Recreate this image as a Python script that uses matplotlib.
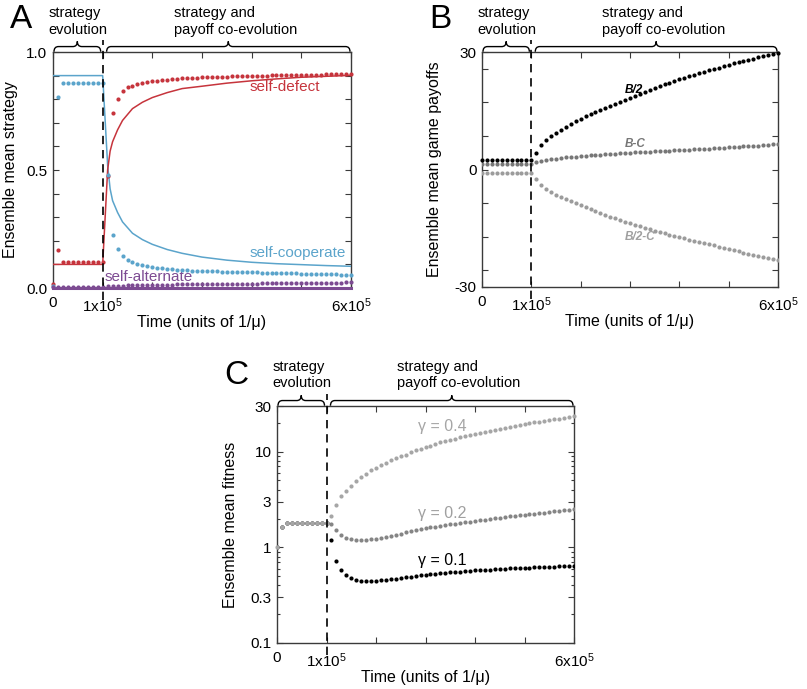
import matplotlib
matplotlib.use('Agg')
import matplotlib.pyplot as plt
import matplotlib.transforms as mtransforms
from matplotlib.path import Path
from matplotlib.patches import PathPatch
from matplotlib.ticker import LogLocator, FixedLocator, NullFormatter
import numpy as np

plt.rcParams['font.family'] = ['Liberation Sans', 'DejaVu Sans']
plt.rcParams['mathtext.fontset'] = 'custom'
plt.rcParams['mathtext.rm'] = 'Liberation Sans'
plt.rcParams['mathtext.it'] = 'Liberation Sans:italic'

# Data: time grid (units of 1/mu), samples every 1e4
time = np.arange(0, 610000, 10000)

# Panel A - ensemble mean strategy (dots)
self_defect = [0.017, 0.16, 0.11, 0.11, 0.11, 0.11, 0.11, 0.11, 0.11, 0.11, 0.11,
               0.475, 0.74, 0.80, 0.833, 0.85, 0.858, 0.864, 0.869, 0.873, 0.876,
               0.879, 0.881, 0.883, 0.885, 0.887, 0.888, 0.889, 0.890, 0.891, 0.892,
               0.893, 0.894, 0.895, 0.895, 0.896, 0.897, 0.897, 0.898, 0.898, 0.899,
               0.899, 0.900, 0.900, 0.901, 0.901, 0.902, 0.902, 0.902, 0.903, 0.903,
               0.903, 0.904, 0.904, 0.904, 0.905, 0.905, 0.905, 0.906, 0.906, 0.906]
self_cooperate = [0.01, 0.81, 0.869, 0.869, 0.869, 0.869, 0.869, 0.869, 0.869, 0.869, 0.869,
                  0.48, 0.225, 0.167, 0.137, 0.119, 0.109, 0.101, 0.096, 0.092, 0.089,
                  0.086, 0.084, 0.082, 0.080, 0.078, 0.076, 0.075, 0.074, 0.073, 0.072,
                  0.071, 0.070, 0.070, 0.069, 0.069, 0.068, 0.068, 0.067, 0.067, 0.066,
                  0.066, 0.065, 0.065, 0.064, 0.064, 0.063, 0.063, 0.062, 0.062, 0.061,
                  0.061, 0.060, 0.060, 0.059, 0.059, 0.058, 0.058, 0.057, 0.056, 0.055]
self_alternate = [0.005, 0.005, 0.005, 0.005, 0.005, 0.005, 0.005, 0.005, 0.005, 0.005, 0.005,
                  0.008, 0.009, 0.010, 0.010, 0.011, 0.011, 0.012, 0.012, 0.013, 0.013,
                  0.013, 0.014, 0.014, 0.014, 0.015, 0.015, 0.015, 0.016, 0.016, 0.016,
                  0.017, 0.017, 0.017, 0.018, 0.018, 0.018, 0.018, 0.019, 0.019, 0.019,
                  0.019, 0.020, 0.020, 0.020, 0.020, 0.021, 0.021, 0.021, 0.021, 0.022,
                  0.022, 0.022, 0.022, 0.022, 0.023, 0.023, 0.023, 0.023, 0.024, 0.024]

# Panel A - analytic curves (solid lines)
t_line = [0, 100000, 105000, 110000, 115000, 120000, 130000, 140000, 160000, 180000,
          200000, 230000, 260000, 300000, 350000, 400000, 450000, 500000, 550000, 600000]
coop_line = [0.9, 0.9, 0.71, 0.52, 0.42, 0.37, 0.32, 0.28, 0.232, 0.205,
             0.185, 0.163, 0.147, 0.131, 0.118, 0.109, 0.103, 0.099, 0.095, 0.092]
defect_line = [0.1, 0.1, 0.3, 0.5, 0.58, 0.62, 0.67, 0.71, 0.76, 0.787,
               0.807, 0.828, 0.845, 0.855, 0.868, 0.878, 0.886, 0.893, 0.897, 0.901]
t_alt_line = [0, 600000]
alt_line = [0.002, 0.002]

# Panel B - ensemble mean game payoffs
pay_b2 = [2.5, 2.5, 2.5, 2.5, 2.5, 2.5, 2.5, 2.5, 2.5, 2.5, 2.5,
          4.1, 6.2, 7.5, 8.6, 9.4, 10.2, 10.9, 11.6, 12.3, 13.0,
          13.6, 14.2, 14.8, 15.3, 15.8, 16.3, 16.8, 17.3, 17.8, 18.3,
          18.8, 19.3, 19.8, 20.3, 20.8, 21.3, 21.8, 22.2, 22.6, 23.0,
          23.4, 23.8, 24.2, 24.6, 25.0, 25.3, 25.7, 26.0, 26.4, 26.8,
          27.1, 27.4, 27.7, 28.0, 28.3, 28.6, 28.9, 29.2, 29.5, 29.8]
pay_bc = [1.5, 1.5, 1.5, 1.5, 1.5, 1.5, 1.5, 1.5, 1.5, 1.5, 1.5,
          1.8, 2.1, 2.3, 2.6, 2.8, 3.0, 3.1, 3.2, 3.3, 3.4,
          3.5, 3.6, 3.7, 3.8, 3.9, 4.0, 4.05, 4.1, 4.2, 4.3,
          4.35, 4.4, 4.5, 4.55, 4.6, 4.7, 4.75, 4.8, 4.9, 4.95,
          5.0, 5.1, 5.15, 5.2, 5.3, 5.35, 5.4, 5.5, 5.6, 5.7,
          5.8, 5.85, 5.9, 6.0, 6.05, 6.1, 6.2, 6.3, 6.4, 6.5]
pay_b2c = [-1.0, -1.0, -1.0, -1.0, -1.0, -1.0, -1.0, -1.0, -1.0, -1.0, -1.0,
           -2.3, -3.9, -5.0, -5.7, -6.4, -7.0, -7.6, -8.1, -8.6, -9.1,
           -9.6, -10.1, -10.6, -11.1, -11.6, -12.0, -12.4, -12.9, -13.3, -13.7,
           -14.1, -14.5, -14.9, -15.3, -15.6, -16.0, -16.3, -16.7, -17.0, -17.3,
           -17.6, -17.9, -18.2, -18.5, -18.8, -19.1, -19.4, -19.7, -20.0, -20.3,
           -20.6, -20.9, -21.2, -21.5, -21.8, -22.1, -22.4, -22.6, -22.9, -23.2]

# Panel C - ensemble mean fitness
fit_04 = [1.0, 1.65, 1.78, 1.78, 1.78, 1.78, 1.78, 1.78, 1.78, 1.78, 1.78,
          2.15, 2.8, 3.4, 3.9, 4.4, 4.9, 5.4, 5.9, 6.4, 6.8,
          7.3, 7.7, 8.1, 8.5, 8.9, 9.3, 9.8, 10.3, 10.7, 11.1,
          11.5, 12.0, 12.5, 12.9, 13.3, 13.7, 14.1, 14.5, 15.0, 15.4,
          15.8, 16.2, 16.6, 17.0, 17.4, 17.8, 18.2, 18.6, 19.0, 19.4,
          19.8, 20.2, 20.6, 21.0, 21.4, 21.8, 22.2, 22.6, 23.0, 23.5]
fit_02 = [1.0, 1.65, 1.78, 1.78, 1.78, 1.78, 1.78, 1.78, 1.78, 1.78, 1.78,
          1.75, 1.50, 1.33, 1.25, 1.21, 1.19, 1.19, 1.20, 1.21, 1.23,
          1.25, 1.28, 1.31, 1.35, 1.39, 1.43, 1.47, 1.51, 1.55, 1.58,
          1.62, 1.65, 1.68, 1.71, 1.74, 1.77, 1.80, 1.83, 1.86, 1.89,
          1.92, 1.95, 1.98, 2.01, 2.04, 2.07, 2.10, 2.13, 2.16, 2.19,
          2.22, 2.25, 2.28, 2.31, 2.34, 2.37, 2.40, 2.43, 2.46, 2.50]
fit_01 = [1.0, 1.65, 1.78, 1.78, 1.78, 1.78, 1.78, 1.78, 1.78, 1.78, 1.78,
          1.19, 0.72, 0.58, 0.51, 0.475, 0.46, 0.45, 0.447, 0.447, 0.45,
          0.455, 0.46, 0.465, 0.47, 0.478, 0.485, 0.492, 0.50, 0.508, 0.515,
          0.522, 0.528, 0.535, 0.54, 0.546, 0.552, 0.558, 0.563, 0.568, 0.573,
          0.578, 0.582, 0.586, 0.59, 0.594, 0.598, 0.601, 0.604, 0.607, 0.61,
          0.613, 0.616, 0.619, 0.622, 0.625, 0.628, 0.631, 0.634, 0.637, 0.64]

RED = '#c6343c'
BLUE = '#5ba4cb'
PURPLE = '#7d4b92'
SPINE = '#3a3a3a'

xticks = [0, 100000, 200000, 300000, 400000, 500000, 600000]
xlabels = ['0', r'1x10$^{5}$', '', '', '', '', r'6x10$^{5}$']


def style_axes(ax):
    for s in ax.spines.values():
        s.set_color(SPINE)
        s.set_linewidth(1.0)
    ax.tick_params(which='both', direction='in', top=True, right=True,
                   length=4, width=0.8, color=SPINE, labelsize=11, pad=4)
    ax.tick_params(axis='x', pad=6)
    ax.set_xlim(0, 600000)
    ax.set_xticks(xticks)
    ax.set_xticklabels(xlabels)
    ax.set_xlabel('Time (units of 1/\u03bc)', fontsize=11.5)
    ax.xaxis.set_label_coords(0.5, -0.115)


def brace(ax, x0, x1, y=1.023, h=0.022, r=9000):
    trans = mtransforms.blended_transform_factory(ax.transData, ax.transAxes)
    xm = (x0 + x1) / 2
    verts = [(x0, y - h), (x0, y), (x0 + r, y), (xm - r, y), (xm, y), (xm, y + h),
             (xm, y), (xm + r, y), (x1 - r, y), (x1, y), (x1, y - h)]
    codes = [Path.MOVETO, Path.CURVE3, Path.CURVE3, Path.LINETO, Path.CURVE3, Path.CURVE3,
             Path.CURVE3, Path.CURVE3, Path.LINETO, Path.CURVE3, Path.CURVE3]
    ax.add_patch(PathPatch(Path(verts, codes), transform=trans, fc='none',
                           ec='black', lw=1.0, clip_on=False))


def phases(ax, letter, letter_xy):
    trans = mtransforms.blended_transform_factory(ax.transData, ax.transAxes)
    ax.plot([100000, 100000], [-0.05, 1.05], transform=trans, color='black',
            ls=(0, (5, 3.5)), lw=1.2, clip_on=False, zorder=5)
    brace(ax, 2000, 96000)
    brace(ax, 108000, 598000)
    for x, lines in [(-0.015, ('strategy', 'evolution')),
                     (0.405, ('strategy and', 'payoff co-evolution'))]:
        ax.text(x, 1.165, lines[0], transform=ax.transAxes, fontsize=10.5,
                ha='left', va='center')
        ax.text(x, 1.095, lines[1], transform=ax.transAxes, fontsize=10.5,
                ha='left', va='center')
    fig.text(letter_xy[0], letter_xy[1], letter, fontsize=24, ha='left', va='center')


fig = plt.figure(figsize=(8.07, 6.89), dpi=100)

# ---- Panel A
axA = fig.add_axes([53/807, 1 - 288/689, 298/807, 236/689])
axA.plot(t_line, coop_line, color=BLUE, lw=1.1, zorder=3)
axA.plot(t_line, defect_line, color=RED, lw=1.1, zorder=3)
axA.plot(t_alt_line, alt_line, color=PURPLE, lw=2.2, zorder=3, clip_on=False)
axA.plot(time, self_defect, 'o', color=RED, ms=3, mec='none', zorder=4, clip_on=False)
axA.plot(time, self_cooperate, 'o', color=BLUE, ms=3, mec='none', zorder=4, clip_on=False)
axA.plot(time, self_alternate, 'o', color=PURPLE, ms=3, mec='none', zorder=4, clip_on=False)
axA.set_ylim(0, 1)
axA.set_yticks([0, 0.5, 1.0])
axA.set_yticklabels(['0.0', '0.5', '1.0'])
axA.yaxis.set_minor_locator(FixedLocator([0.1, 0.2, 0.3, 0.4, 0.6, 0.7, 0.8, 0.9]))
style_axes(axA)
axA.set_ylabel('Ensemble mean strategy', fontsize=11.5)
axA.yaxis.set_label_coords(-0.117, 0.5)
axA.text(395000, 0.85, 'self-defect', color=RED, fontsize=11, va='center')
axA.text(395000, 0.148, 'self-cooperate', color=BLUE, fontsize=11, va='center')
axA.text(104000, 0.046, 'self-alternate', color=PURPLE, fontsize=11, va='center')
phases(axA, 'A', (0.012, 0.972))

# ---- Panel B
axB = fig.add_axes([482/807, 1 - 287/689, 296/807, 235/689])
axB.plot(time, pay_b2c, 'o', color='#9c9c9c', ms=3, mec='none', zorder=4)
axB.plot(time, pay_bc, 'o', color='#777777', ms=3, mec='none', zorder=4)
axB.plot(time, pay_b2, 'o', color='black', ms=3, mec='none', zorder=4, clip_on=False)
axB.set_ylim(-30, 30)
axB.set_yticks([-30, 0, 30])
axB.set_yticklabels(['-30', '0', '30'])
axB.yaxis.set_minor_locator(FixedLocator([-25.71, -17.14, -8.57, 8.57, 17.14, 25.71]))
style_axes(axB)
axB.set_ylabel('Ensemble mean game payoffs', fontsize=11.5)
axB.yaxis.set_label_coords(-0.135, 0.5)
axB.text(290000, 20.3, 'B/2', color='black', fontsize=8.5, fontweight='bold',
         style='italic', va='center')
axB.text(290000, 6.6, 'B-C', color='#777777', fontsize=8.5, fontweight='bold',
         style='italic', va='center')
axB.text(290000, -17.2, 'B/2-C', color='#a0a0a0', fontsize=8.5, fontweight='bold',
         style='italic', va='center')
phases(axB, 'B', (0.532, 0.972))

# ---- Panel C
axC = fig.add_axes([277/807, 1 - 643/689, 297/807, 237/689])
axC.plot(time, fit_01, 'o', color='black', ms=3, mec='none', zorder=4)
axC.plot(time, fit_02, 'o', color='#858585', ms=3, mec='none', zorder=4)
axC.plot(time, fit_04, 'o', color='#a6a6a6', ms=3, mec='none', zorder=4, clip_on=False)
axC.set_yscale('log')
axC.set_ylim(0.1, 30)
axC.set_yticks([0.1, 0.3, 1, 3, 10, 30])
axC.set_yticklabels(['0.1', '0.3', '1', '3', '10', '30'])
axC.yaxis.set_minor_locator(LogLocator(base=10, subs=[2, 4, 5, 6, 7, 8, 9]))
axC.yaxis.set_minor_formatter(NullFormatter())
style_axes(axC)
axC.tick_params(axis='y', which='minor', length=2.5)
axC.set_ylabel('Ensemble mean fitness', fontsize=11.5)
axC.yaxis.set_label_coords(-0.131, 0.5)
axC.text(285000, 18.2, '\u03b3 = 0.4', color='#a6a6a6', fontsize=11.5, va='center')
axC.text(285000, 2.27, '\u03b3 = 0.2', color='#a0a0a0', fontsize=11.5, va='center')
axC.text(285000, 0.735, '\u03b3 = 0.1', color='black', fontsize=11.5, va='center')
phases(axC, 'C', (0.278, 0.455))

fig.savefig('out.png', dpi=100)
